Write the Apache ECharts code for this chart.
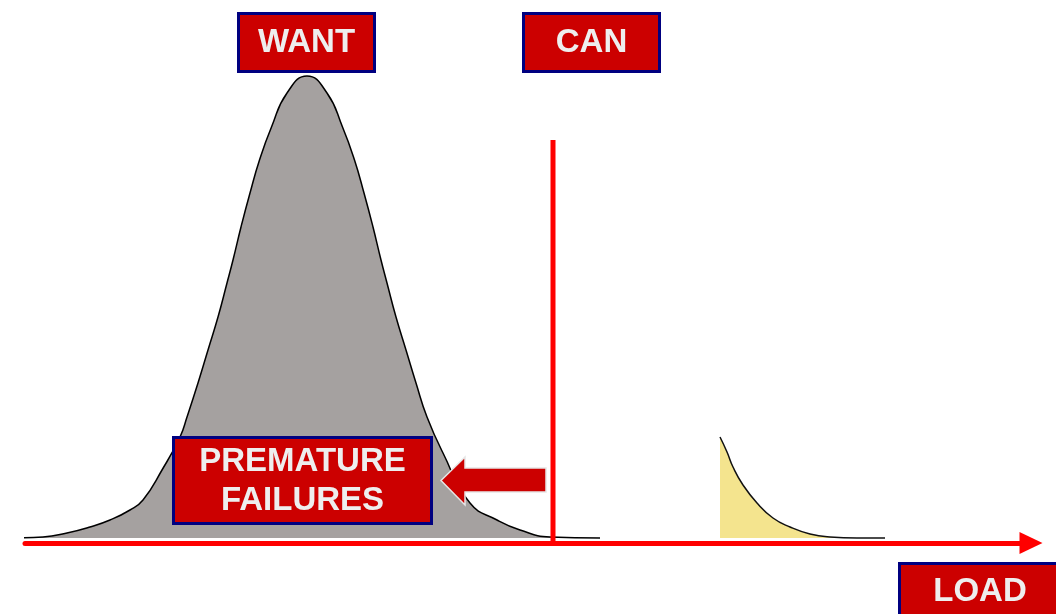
<!DOCTYPE html>
<html><head><meta charset="utf-8">
<script src="https://cdn.jsdelivr.net/npm/echarts@6/dist/echarts.min.js"></script>
<style>html,body{margin:0;padding:0;background:#fff}#c{width:1056px;height:614px}</style>
</head><body><div id="c"></div>
<script>
// Load (x) and relative density (y)
const wantLoad = [13, 43, 67, 90, 110, 130, 143, 162, 180, 187, 198, 208, 218, 227, 233, 241, 250, 259.5, 271.5, 287, 307, 327, 342.5, 354.5, 364, 373, 381, 387, 396, 406, 416, 427, 443, 470, 497, 520, 550, 600];
const wantDensity = [0, 1, 5, 11, 18, 28, 38, 68, 101, 121, 155, 188, 221, 255, 278, 311, 345, 378, 411, 445, 462, 445, 411, 378, 345, 311, 278, 255, 221, 188, 155, 121, 85, 35, 18, 8, 1, 0];
const failLoad = [720, 727, 733, 743, 757, 773, 790, 810, 830, 857, 885];
const failDensity = [101, 86, 71, 53, 35, 20, 11, 4, 1, 0, 0];
const canLoad = 553;
const canRange = [-3, 398];
const loadRange = [25, 1031];
const densityMax = 462;
const labels = { want: 'WANT', can: 'CAN', premature: ['PREMATURE', 'FAILURES'], load: 'LOAD' };

const zip = (xs, ys) => xs.map((x, i) => [x, ys[i]]);
const chart = echarts.init(document.getElementById('c'), null, { renderer: 'canvas' });
const FONT = 'bold 33px "Liberation Sans", Arial, sans-serif';
const RED = '#CC0000', NAVY = '#000080', TXT = '#EEEEEE';

function rect(x, y, w, h) {
  return { type: 'rect', z: 10, shape: { x: x, y: y, width: w, height: h },
    style: { fill: RED, stroke: NAVY, lineWidth: 3 } };
}
function txt(x, y, text) {
  return { type: 'text', z: 11, x: x, y: y,
    style: { text: text, fill: TXT, font: FONT, align: 'center', verticalAlign: 'middle',
      textAlign: 'center', textVerticalAlign: 'middle' } };
}

chart.setOption({
  animation: false,
  grid: { left: 25, right: 25, top: 76, bottom: 76 },
  xAxis: {
    type: 'value', min: loadRange[0], max: loadRange[1], offset: 5,
    axisLine: { show: true, onZero: false, lineStyle: { color: '#FF0000', width: 5 }, symbol: ['none', 'triangle'], symbolSize: [22, 23] },
    axisTick: { show: false }, axisLabel: { show: false }, splitLine: { show: false }
  },
  yAxis: { type: 'value', min: 0, max: densityMax, show: false, splitLine: { show: false } },
  series: [
    {
      name: 'WANT', type: 'line', data: zip(wantLoad, wantDensity), smooth: 0.5,
      symbol: 'none', clip: false, lineStyle: { color: '#000', width: 1.5 },
      areaStyle: { color: '#A5A1A0', opacity: 1 }, z: 2
    },
    {
      name: 'FAIL', type: 'line', data: zip(failLoad, failDensity), smooth: 0.5,
      symbol: 'none', clip: false, lineStyle: { color: '#111', width: 1.5 },
      areaStyle: { color: '#F4E48E', opacity: 1 }, z: 2
    },
    {
      name: 'CAN', type: 'line', data: [[canLoad, canRange[0]], [canLoad, canRange[1]]],
      symbol: 'none', clip: false, lineStyle: { color: '#FF0000', width: 5 }, z: 3
    }
  ],
  graphic: { elements: [
    rect(238.5, 13.5, 136, 58), txt(306.5, 43, labels.want),
    rect(523.5, 13.5, 136, 58), txt(591.5, 43, labels.can),
    rect(173.5, 437.5, 258, 86), txt(302.5, 462, labels.premature[0]), txt(302.5, 501, labels.premature[1]),
    rect(899.5, 563.5, 161, 56), txt(980, 592, labels.load),
    {
      type: 'polygon', z: 10,
      shape: { points: [[546, 468], [465, 468], [465, 457], [441, 480.5], [465, 505], [465, 492], [546, 492]] },
      style: { fill: RED, stroke: '#E6E6E6', lineWidth: 1.5 }
    }
  ] }
});
</script></body></html>
